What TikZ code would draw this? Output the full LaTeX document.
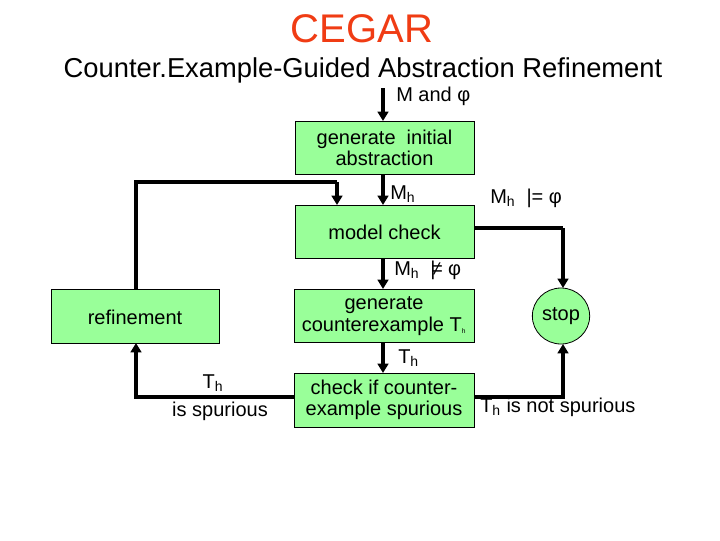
\documentclass[tikz,border=0pt]{standalone}
\usepackage{fontspec}
\setmainfont{Liberation Sans}
\usetikzlibrary{arrows.meta,shapes.geometric}
\definecolor{boxg}{RGB}{153,255,153}
\definecolor{ttl}{RGB}{240,60,20}
\begin{document}
\begin{tikzpicture}[x=0.75pt,y=-0.75pt,
  box/.style={draw=black,line width=0.6pt,fill=boxg},
  lbl/.style={inner sep=0pt,align=center,font=\fontsize{15}{17}\selectfont},
  arr/.style={line width=3pt,-{Triangle[length=7pt,width=8pt]}},
  ln/.style={line width=3pt}]
\useasboundingbox (0,0) rectangle (720,540);
\node[inner sep=0pt,text=ttl,font=\fontsize{30}{34}\selectfont] (title) at (362,29) {CEGAR};
\node[inner sep=0pt,font=\fontsize{20.5}{23}\selectfont] (sub) at (363,70) {Counter.Example-Guided Abstraction Refinement};
\path[box] (295,121) rectangle (474,174);
\node[lbl] (gi) at (384.5,148) {generate\ \ initial\\[-1pt]abstraction};
\path[box] (295,205) rectangle (474,258);
\node[lbl] (mc) at (384.5,232) {model check};
\path[box] (51,289) rectangle (219,343);
\node[lbl] (rf) at (135,317) {refinement};
\path[box] (294,289) rectangle (474,342);
\node[lbl] (gc) at (384,316) {generate\\[-1pt]counterexample T\textsubscript{\tiny h}};
\path[box] (294,373) rectangle (474,427);
\node[lbl] (ck) at (384,400) {check if counter-\\[-1pt]example spurious};
\node[box,ellipse,minimum width=43,minimum height=42,inner sep=0pt] (stop) at (561,316) {};
\node[lbl] at (561,316) {stop};
\coordinate (in) at (383,88);
\draw[arr] (in) -- (383,121);
\node[lbl,anchor=west] at (396,96) {M and φ};
\draw[arr] (383,174) -- (383,205);
\node[lbl,anchor=west] at (390,194) {M\textsubscript{h}};
\node[lbl,anchor=west] at (490,198) {M\textsubscript{h}\ \ |= φ};
\draw[arr] (383,258) -- (383,289);
\node[lbl,anchor=west] at (394,270) {M\textsubscript{h}\ \ |\hspace{-3pt}≠\ φ};
\draw[arr] (383,342) -- (383,373);
\node[lbl,anchor=west] at (398,358) {T\textsubscript{h}};
\draw[ln] (136,289) -- (136,182) -- (337,182);
\draw[arr] (337,182) -- (337,205);
\draw[ln] (474,228) -- (563,228);
\draw[arr] (563,228) -- (563,288);
\draw[arr] (294,397) -- (136,397) -- (136,343);
\draw[arr] (474,397) -- (563,397) -- (563,344);
\node[lbl] at (213,383) {T\textsubscript{h}};
\node[lbl] at (220,411) {is spurious};
\node[lbl,anchor=west] at (480,407) {T\textsubscript{h} is not spurious};
\end{tikzpicture}
\end{document}
